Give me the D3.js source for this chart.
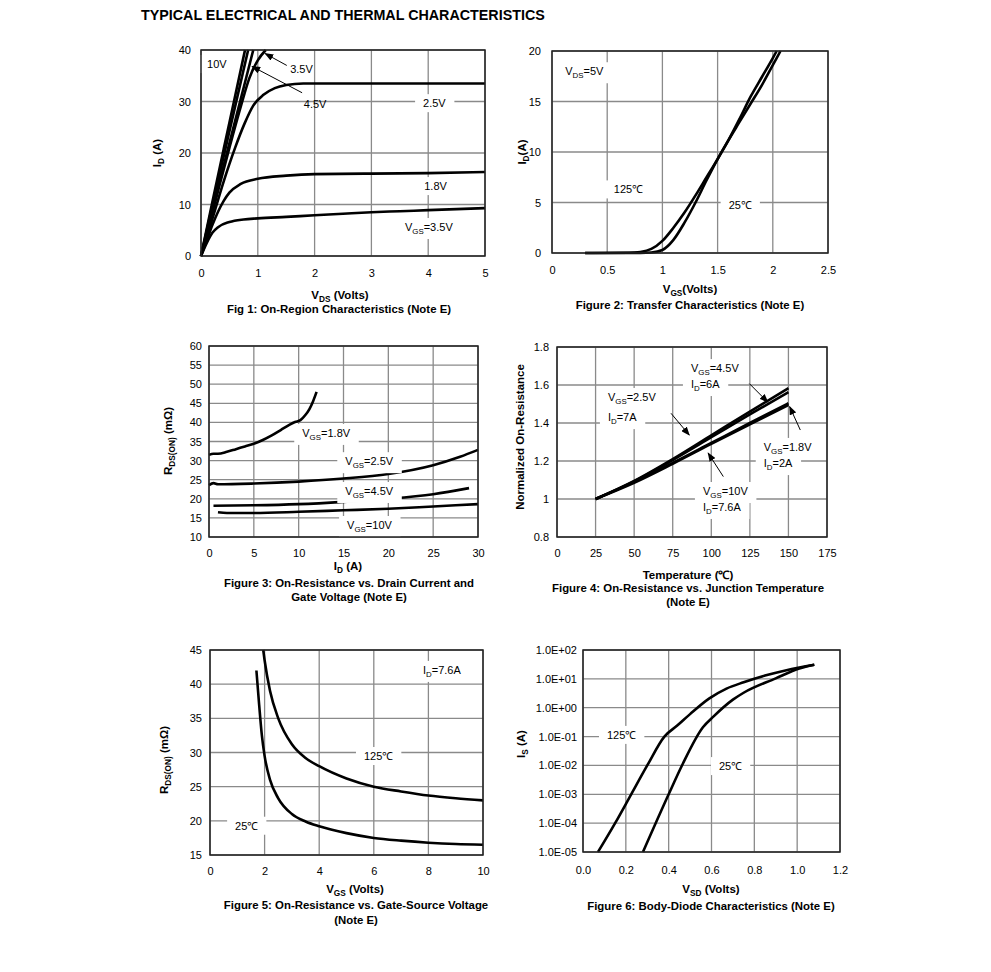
<!DOCTYPE html>
<html>
<head>
<meta charset="utf-8">
<script src="https://cdn.jsdelivr.net/npm/d3@7"></script>
<style>
  body { margin: 0; background: #fff; }
  svg { font-family: Arial, "Liberation Sans", sans-serif; }
</style>
</head>
<body>
<svg id="chart" width="991" height="972"></svg>
<script>
// ---- Fig 1: On-region characteristics (VDS, ID) ----
const fig1XTicks = [0, 1, 2, 3, 4, 5];
const fig1YTicks = [0, 10, 20, 30, 40];
const fig1Vgs10 = [[0, 0], [0.2, 10.5], [0.4, 20.8], [0.6, 31], [0.775, 40]];
const fig1Vgs6 = [[0, 0], [0.2, 9.8], [0.4, 19.4], [0.6, 29], [0.83, 40]];
const fig1Vgs45 = [[0, 0], [0.2, 8.9], [0.4, 17.6], [0.6, 26.2], [0.8, 34.8], [0.92, 40]];
const fig1Vgs35 = [[0, 0], [0.25, 10.5], [0.5, 21], [0.7, 29], [0.85, 34.5], [1.0, 38], [1.14, 40]];
const fig1Vgs25 = [[0, 0], [0.2, 7.2], [0.4, 14.5], [0.6, 21], [0.77, 25.8], [0.92, 29.2], [1.1, 31.3], [1.3, 32.6], [1.5, 33.2], [1.8, 33.5], [3, 33.5], [5, 33.5]];
const fig1Vgs18 = [[0, 0], [0.1, 3], [0.2, 6], [0.3, 8.6], [0.4, 10.7], [0.5, 12.3], [0.7, 14], [1, 15], [1.5, 15.6], [2, 15.9], [3, 16], [4, 16.1], [5, 16.3]];
const fig1Vgs15 = [[0, 0], [0.1, 2.5], [0.2, 4.5], [0.3, 5.6], [0.5, 6.6], [0.75, 7.1], [1, 7.3], [1.5, 7.6], [2, 7.9], [2.5, 8.2], [3, 8.5], [3.5, 8.7], [4, 8.9], [4.5, 9.1], [5, 9.3]];

// ---- Fig 2: Transfer characteristics (VGS, ID) ----
const fig2XTicks = [0, 0.5, 1, 1.5, 2, 2.5];
const fig2YTicks = [0, 5, 10, 15, 20];
const fig2T125 = [[0.3, 0], [0.7, 0.02], [0.8, 0.1], [0.9, 0.4], [1.0, 1.2], [1.1, 2.5], [1.2, 4], [1.3, 5.7], [1.4, 7.5], [1.5, 9.3], [1.6, 11.2], [1.7, 13.3], [1.8, 15.5], [1.9, 17.4], [2.0, 19.3], [2.035, 20]];
const fig2T25 = [[0.3, 0], [0.8, 0.01], [0.9, 0.05], [1.0, 0.3], [1.1, 1.3], [1.2, 3], [1.3, 5], [1.4, 7.2], [1.5, 9.3], [1.6, 11.2], [1.7, 13], [1.8, 14.8], [1.9, 16.6], [2.0, 18.6], [2.07, 20]];

// ---- Fig 3: RDS(ON) vs ID ----
const fig3XTicks = [0, 5, 10, 15, 20, 25, 30];
const fig3YTicks = [10, 15, 20, 25, 30, 35, 40, 45, 50, 55, 60];
const fig3Vgs18 = [[0, 31.5], [0.5, 31.8], [1, 31.8], [2, 32.3], [3, 33], [4, 33.7], [5, 34.4], [6, 35.4], [7, 36.6], [8, 38], [9, 39.4], [9.6, 40.1], [10.2, 40.6], [10.7, 41.8], [11.2, 43.5], [11.6, 45.5], [12, 48]];
const fig3Vgs25 = [[0, 23.6], [0.5, 24.1], [1, 23.8], [5, 24], [10, 24.5], [15, 25.3], [20, 26.5], [25, 28.8], [28, 31], [30, 32.8]];
const fig3Vgs45 = [[0.5, 18.2], [5, 18.3], [10, 18.6], [15, 19.2], [20, 20], [25, 21.2], [29, 22.8]];
const fig3Vgs10 = [[1, 16.5], [2, 16.3], [5, 16.3], [10, 16.6], [15, 17], [20, 17.4], [25, 18], [30, 18.6]];

// ---- Fig 4: normalized RDS(ON) vs temperature ----
const fig4XTicks = [0, 25, 50, 75, 100, 125, 150, 175];
const fig4YTicks = [0.8, 1, 1.2, 1.4, 1.6, 1.8];
const fig4Vgs45 = [[25, 1.0], [50, 1.095], [75, 1.21], [100, 1.335], [125, 1.46], [150, 1.583]];
const fig4Vgs25 = [[25, 1.0], [50, 1.093], [75, 1.205], [100, 1.325], [125, 1.445], [150, 1.562]];
const fig4Vgs10 = [[25, 1.0], [50, 1.09], [75, 1.19], [100, 1.295], [125, 1.4], [150, 1.504]];
const fig4Vgs18 = [[25, 1.0], [50, 1.085], [75, 1.185], [100, 1.29], [125, 1.393], [150, 1.495]];

// ---- Fig 5: RDS(ON) vs VGS ----
const fig5XTicks = [0, 2, 4, 6, 8, 10];
const fig5YTicks = [15, 20, 25, 30, 35, 40, 45];
const fig5T25 = [[1.7, 42], [1.8, 37], [1.9, 32.5], [2, 29.5], [2.2, 26], [2.5, 23.3], [3, 21], [3.5, 19.9], [4, 19.2], [5, 18.2], [6, 17.5], [7, 17.1], [8, 16.8], [9, 16.6], [10, 16.5]];
const fig5T125 = [[1.95, 45], [2, 43.5], [2.2, 39], [2.5, 35], [3, 31.2], [3.5, 29.2], [4, 28], [5, 26.2], [6, 25], [7, 24.3], [8, 23.7], [9, 23.3], [10, 23]];

// ---- Fig 6: body diode (VSD, IS) ----
const fig6XTicks = [0, 0.2, 0.4, 0.6, 0.8, 1.0, 1.2];
const fig6YTicks = [1e-5, 1e-4, 1e-3, 1e-2, 1e-1, 1, 10, 100];
const fig6YLabels = ["1.0E-05", "1.0E-04", "1.0E-03", "1.0E-02", "1.0E-01", "1.0E+00", "1.0E+01", "1.0E+02"];
const fig6T125 = [[0.07, 1e-5], [0.15, 1e-4], [0.225, 1e-3], [0.3, 1e-2], [0.38, 1e-1], [0.44, 0.24], [0.5, 0.6], [0.59, 2.1], [0.67, 4.6], [0.75, 7.6], [0.85, 13], [0.95, 20], [1.08, 31]];
const fig6T25 = [[0.28, 1e-5], [0.4, 1e-3], [0.465, 1.1e-2], [0.56, 0.21], [0.61, 0.5], [0.7, 1.9], [0.75, 3.3], [0.9, 10.4], [1.01, 23], [1.08, 31]];

const svg = d3.select("#chart");
svg.append("rect").attr("width", 991).attr("height", 972).attr("fill", "#fff");

const defs = svg.append("defs");
defs.append("marker")
  .attr("id", "arrow")
  .attr("markerUnits", "userSpaceOnUse")
  .attr("markerWidth", 9).attr("markerHeight", 7)
  .attr("refX", 8).attr("refY", 3.5)
  .attr("orient", "auto")
  .append("path").attr("d", "M0,0 L9,3.5 L0,7 z").attr("fill", "#000");

// text with _{sub} subscripts
function rich(sel, str, size) {
  const parts = str.split(/(_\{[^}]*\})/).filter(s => s);
  let shift = 0;
  parts.forEach(p => {
    const sub = p.startsWith("_{");
    const s = sub ? 3 : 0;
    sel.append("tspan")
      .attr("dy", s - shift)
      .attr("font-size", sub ? size * 0.72 : null)
      .text(sub ? p.slice(2, -1) : p);
    shift = s;
  });
  return sel;
}

function panel(cfg) {
  const g = svg.append("g");
  const x = cfg.x, y = cfg.y;
  const [left, right] = x.range();
  const [bottom, top] = y.range();

  // grid
  g.selectAll(".gx").data(cfg.xTicks).join("line")
    .attr("x1", d => x(d)).attr("x2", d => x(d))
    .attr("y1", top).attr("y2", bottom)
    .attr("stroke", "#8a8a8a").attr("stroke-width", 1.3);
  g.selectAll(".gy").data(cfg.yTicks).join("line")
    .attr("x1", left).attr("x2", right)
    .attr("y1", d => y(d)).attr("y2", d => y(d))
    .attr("stroke", "#8a8a8a").attr("stroke-width", 1.3);

  // curves
  const line = d3.line().x(d => x(d[0])).y(d => y(d[1])).curve(d3.curveMonotoneX);
  g.selectAll(".curve").data(cfg.series).join("path")
    .attr("d", line)
    .attr("fill", "none").attr("stroke", "#000")
    .attr("stroke-width", 2.6).attr("stroke-linejoin", "round");

  // labels with white background
  (cfg.labels || []).forEach(l => {
    const lg = g.append("g");
    const t = lg.append("text")
      .attr("x", x(l.x)).attr("y", y(l.y))
      .attr("font-size", 11).attr("fill", "#000");
    rich(t, l.t, 11);
    if (l.bg !== false) {
      const b = t.node().getBBox();
      lg.insert("rect", "text")
        .attr("x", b.x - 8).attr("y", b.y - 3)
        .attr("width", b.width + 16).attr("height", b.height + 6)
        .attr("fill", "#fff");
    }
  });

  (cfg.arrows || []).forEach(a => {
    g.append("line")
      .attr("x1", x(a[0][0])).attr("y1", y(a[0][1]))
      .attr("x2", x(a[1][0])).attr("y2", y(a[1][1]))
      .attr("stroke", "#000").attr("stroke-width", 1)
      .attr("marker-end", "url(#arrow)");
  });

  // frame
  g.append("rect")
    .attr("x", left).attr("y", top)
    .attr("width", right - left).attr("height", bottom - top)
    .attr("fill", "none").attr("stroke", "#222").attr("stroke-width", 1.5);

  // tick labels
  const xAxis = g.append("g").attr("transform", `translate(0,${bottom})`)
    .call(d3.axisBottom(x).tickValues(cfg.xTicks).tickFormat(cfg.xFormat || (d => d))
      .tickSize(0).tickPadding(cfg.xPad));
  const yAxis = g.append("g").attr("transform", `translate(${left},0)`)
    .call(d3.axisLeft(y).tickValues(cfg.yTicks).tickFormat(cfg.yFormat || (d => d))
      .tickSize(0).tickPadding(cfg.yPad));
  [xAxis, yAxis].forEach(a => {
    a.select(".domain").remove();
    a.attr("font-family", null).attr("font-size", 11);
    a.selectAll("text").attr("fill", "#000");
  });

  // axis titles
  rich(g.append("text")
    .attr("transform", `translate(${cfg.yTitle[1]},${cfg.yTitle[2]}) rotate(-90)`)
    .attr("text-anchor", "middle").attr("font-size", 11.5).attr("font-weight", "bold"),
    cfg.yTitle[0], 11.5);
  rich(g.append("text")
    .attr("x", cfg.xTitle[1]).attr("y", cfg.xTitle[2])
    .attr("text-anchor", "middle").attr("font-size", 11.5).attr("font-weight", "bold"),
    cfg.xTitle[0], 11.5);
  cfg.caption.forEach(c => {
    g.append("text")
      .attr("x", c[1]).attr("y", c[2])
      .attr("text-anchor", "middle").attr("font-size", 11.4).attr("font-weight", "bold")
      .text(c[0]);
  });
}

svg.append("text")
  .attr("x", 141).attr("y", 20)
  .attr("font-size", 14.3).attr("font-weight", "bold")
  .text("TYPICAL ELECTRICAL AND THERMAL CHARACTERISTICS");

// Fig 1
panel({
  x: d3.scaleLinear().domain([0, 5]).range([201, 485]),
  y: d3.scaleLinear().domain([0, 40]).range([256, 50]),
  xTicks: fig1XTicks, yTicks: fig1YTicks, xPad: 13, yPad: 10,
  series: [fig1Vgs10, fig1Vgs6, fig1Vgs45, fig1Vgs35, fig1Vgs25, fig1Vgs18, fig1Vgs15],
  labels: [
    { t: "10V", x: 0.106, y: 36.5 },
    { t: "3.5V", x: 1.57, y: 35.5, bg: false },
    { t: "4.5V", x: 1.81, y: 28.7, bg: false },
    { t: "2.5V", x: 3.91, y: 28.9 },
    { t: "1.8V", x: 3.93, y: 12.8 },
    { t: "V_{GS}=3.5V", x: 3.59, y: 4.85 }
  ],
  arrows: [[[1.51, 37.0], [1.13, 39.3]], [[1.78, 31.7], [0.9, 36.8]]],
  yTitle: ["I_{D} (A)", 161, 153],
  xTitle: ["V_{DS} (Volts)", 340, 299],
  caption: [["Fig 1: On-Region Characteristics (Note E)", 339, 313]]
});

// Fig 2
panel({
  x: d3.scaleLinear().domain([0, 2.5]).range([552, 828]),
  y: d3.scaleLinear().domain([0, 20]).range([253, 51]),
  xTicks: fig2XTicks, yTicks: fig2YTicks, xPad: 13, yPad: 11,
  series: [fig2T125, fig2T25],
  labels: [
    { t: "V_{DS}=5V", x: 0.12, y: 17.6 },
    { t: "125℃", x: 0.56, y: 5.9 },
    { t: "25℃", x: 1.6, y: 4.36 }
  ],
  yTitle: ["I_{D}(A)", 526, 152],
  xTitle: ["V_{GS}(Volts)", 690, 293],
  caption: [["Figure 2: Transfer Characteristics (Note E)", 690, 309]]
});

// Fig 3
panel({
  x: d3.scaleLinear().domain([0, 30]).range([209, 478]),
  y: d3.scaleLinear().domain([10, 60]).range([537, 346]),
  xTicks: fig3XTicks, yTicks: fig3YTicks, xPad: 12, yPad: 7,
  series: [fig3Vgs18, fig3Vgs25, fig3Vgs45, fig3Vgs10],
  labels: [
    { t: "V_{GS}=1.8V", x: 10.4, y: 36.2 },
    { t: "V_{GS}=2.5V", x: 15.2, y: 28.8 },
    { t: "V_{GS}=4.5V", x: 15.2, y: 21 },
    { t: "V_{GS}=10V", x: 15.4, y: 12.1 }
  ],
  yTitle: ["R_{DS(ON)} (mΩ)", 172, 441],
  xTitle: ["I_{D} (A)", 348, 570],
  caption: [
    ["Figure 3: On-Resistance vs. Drain Current and", 349, 587],
    ["Gate Voltage (Note E)", 349, 601]
  ]
});

// Fig 4
panel({
  x: d3.scaleLinear().domain([0, 175]).range([557, 827]),
  y: d3.scaleLinear().domain([0.8, 1.8]).range([537, 347]),
  xTicks: fig4XTicks, yTicks: fig4YTicks, xPad: 12, yPad: 8,
  series: [fig4Vgs45, fig4Vgs25, fig4Vgs10, fig4Vgs18],
  labels: [
    { t: "V_{GS}=4.5V", x: 86.8, y: 1.668 },
    { t: "I_{D}=6A", x: 86.8, y: 1.584 },
    { t: "V_{GS}=2.5V", x: 33, y: 1.516 },
    { t: "I_{D}=7A", x: 33, y: 1.41 },
    { t: "V_{GS}=1.8V", x: 134, y: 1.253 },
    { t: "I_{D}=2A", x: 134, y: 1.168 },
    { t: "V_{GS}=10V", x: 94.6, y: 1.021 },
    { t: "I_{D}=7.6A", x: 94.6, y: 0.937 }
  ],
  arrows: [
    [[124.7, 1.607], [136.6, 1.51]],
    [[73.9, 1.451], [85.7, 1.337]],
    [[157.7, 1.363], [150.8, 1.486]],
    [[107.8, 1.118], [98.0, 1.241]]
  ],
  yTitle: ["Normalized On-Resistance", 524, 437],
  xTitle: ["Temperature (℃)", 688, 579],
  caption: [
    ["Figure 4: On-Resistance vs. Junction Temperature", 688, 592],
    ["(Note E)", 688, 606]
  ]
});

// Fig 5
panel({
  x: d3.scaleLinear().domain([0, 10]).range([210, 483]),
  y: d3.scaleLinear().domain([15, 45]).range([855, 650]),
  xTicks: fig5XTicks, yTicks: fig5YTicks, xPad: 12, yPad: 8,
  series: [fig5T25, fig5T125],
  labels: [
    { t: "I_{D}=7.6A", x: 7.8, y: 41.5 },
    { t: "125℃", x: 5.64, y: 28.9 },
    { t: "25℃", x: 0.92, y: 18.7 }
  ],
  yTitle: ["R_{DS(ON)} (mΩ)", 168, 760],
  xTitle: ["V_{GS} (Volts)", 355, 893],
  caption: [
    ["Figure 5: On-Resistance vs. Gate-Source Voltage", 356, 909],
    ["(Note E)", 356, 924]
  ]
});

// Fig 6
const fig6Fmt = d3.format(".1f");
panel({
  x: d3.scaleLinear().domain([0, 1.2]).range([583, 840]),
  y: d3.scaleLog().domain([1e-5, 100]).range([852, 650]),
  xTicks: fig6XTicks, yTicks: fig6YTicks, xPad: 14, yPad: 6,
  xFormat: fig6Fmt,
  yFormat: (d, i) => fig6YLabels[i],
  series: [fig6T125, fig6T25],
  labels: [
    { t: "125℃", x: 0.112, y: 0.083 },
    { t: "25℃", x: 0.635, y: 0.0069 }
  ],
  yTitle: ["I_{S} (A)", 525, 744],
  xTitle: ["V_{SD} (Volts)", 711, 893],
  caption: [["Figure 6: Body-Diode Characteristics (Note E)", 711, 910]]
});
</script>
</body>
</html>
